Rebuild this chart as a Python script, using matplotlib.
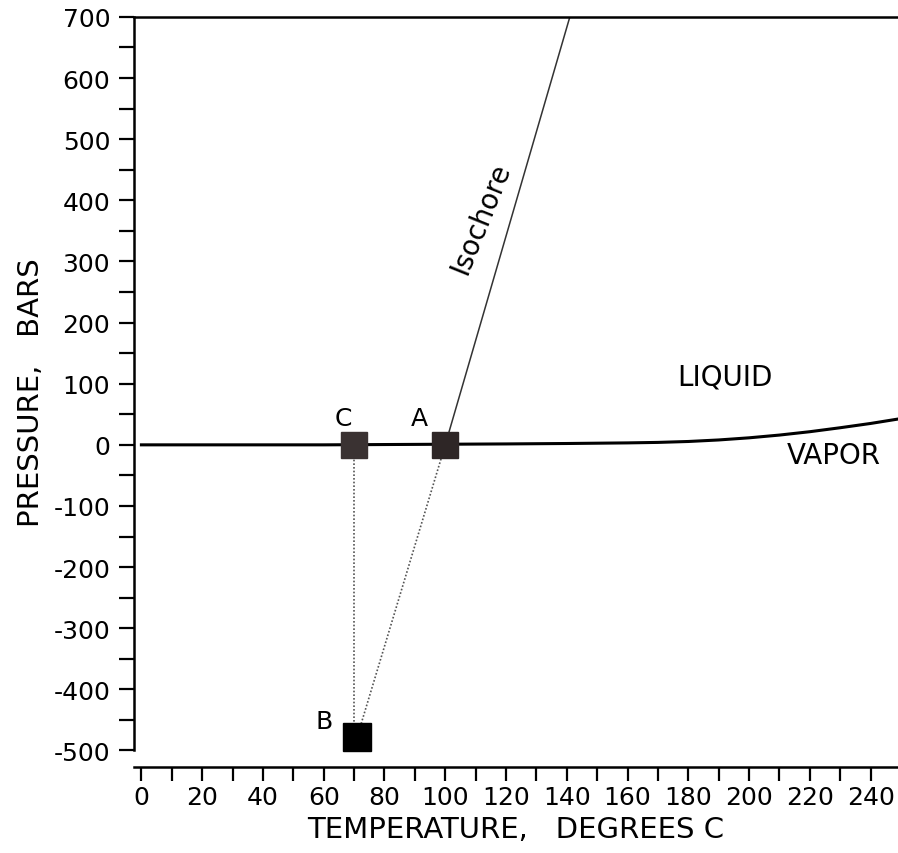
import matplotlib.pyplot as plt
from matplotlib.ticker import MultipleLocator

plt.rcParams['axes.unicode_minus'] = False
plt.rcParams['font.family'] = ['DejaVu Sans']

# liquid-vapor boundary (pressure in bars)
sat_temp = [0, 20, 40, 60, 80, 100, 120, 140, 160, 170, 180, 190, 200, 210, 220, 230, 240, 250]
sat_pres = [0, 0, 0, 0, 0.5, 1.0, 1.5, 2.2, 3.2, 4.0, 5.5, 8.0, 11.5, 16.0, 21.5, 28.0, 35.0, 43.0]

# isochore through A
iso_temp = [100, 141]
iso_pres = [0, 700]

# state points
pt_names = ['A', 'B', 'C']
pt_temp = [100, 71, 70]
pt_pres = [0, -478, 0]

x_ticks = list(range(0, 241, 20))
y_ticks = list(range(-500, 701, 100))

fig = plt.figure(figsize=(8.98, 8.54), dpi=100)
ax = fig.add_axes([0.149, 0.1007, 0.851, 0.8783])

ax.plot(sat_temp, sat_pres, color='black', lw=2.2, zorder=3)
ax.plot(iso_temp, iso_pres, color='#333333', lw=1.1, zorder=2)

a, b, c = 0, 1, 2
ax.plot([pt_temp[a], pt_temp[b]], [pt_pres[a], pt_pres[b]], color='#555555',
        lw=1.2, ls=(0, (1, 1.2)), zorder=2)
ax.plot([pt_temp[c], pt_temp[c]], [pt_pres[c], pt_pres[b]], color='#555555',
        lw=1.2, ls=(0, (1, 1.2)), zorder=2)

ax.plot(pt_temp[a], pt_pres[a], 's', ms=19, color='#2e2626', zorder=4)
ax.plot(pt_temp[c], pt_pres[c], 's', ms=19, color='#3a3232', zorder=4)
ax.plot(pt_temp[b], pt_pres[b], 's', ms=20, color='black', zorder=4)

fs = 18
ax.text(66.5, 44, 'C', fontsize=fs, ha='center', va='center')
ax.text(91.5, 44, 'A', fontsize=fs, ha='center', va='center')
ax.text(60, -451, 'B', fontsize=fs, ha='center', va='center')
ax.text(192, 111, 'LIQUID', fontsize=20, ha='center', va='center')
ax.text(228, -16, 'VAPOR', fontsize=20, ha='center', va='center')
ax.text(111.8, 371, 'Isochore', fontsize=20, ha='center', va='center', rotation=68)

ax.set_xlim(-2.5, 249)
ax.set_ylim(-527, 700)

ax.spines['right'].set_visible(False)
for s in ['left', 'bottom', 'top']:
    ax.spines[s].set_linewidth(1.8)
ax.spines['left'].set_bounds(-500, 700)

ax.set_xticks(x_ticks)
ax.set_yticks(y_ticks)
ax.xaxis.set_minor_locator(MultipleLocator(10))
ax.yaxis.set_minor_locator(MultipleLocator(50))
ax.tick_params(axis='both', which='both', direction='out', width=1.6, labelsize=fs)
ax.tick_params(axis='x', which='both', length=10, pad=3)
ax.tick_params(axis='y', which='both', length=11, pad=6)

ax.set_xlabel('TEMPERATURE,   DEGREES C', fontsize=21, labelpad=4)
ax.set_ylabel('PRESSURE,   BARS', fontsize=21, labelpad=6)

fig.savefig('out.png', dpi=100, facecolor='white')
